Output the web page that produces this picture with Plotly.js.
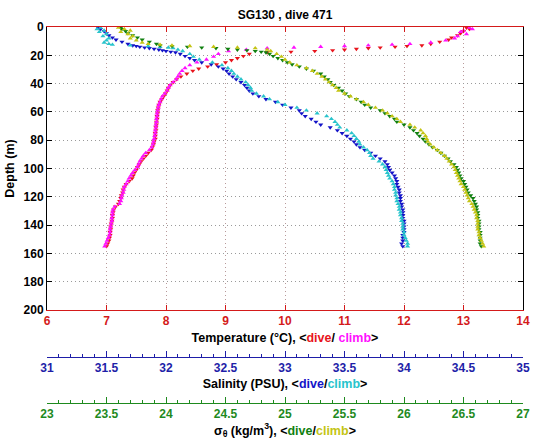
<!DOCTYPE html>
<html>
<head>
<meta charset="utf-8">
<script src="https://cdn.plot.ly/plotly-3.0.1.min.js"></script>
<style>html,body{margin:0;padding:0;background:#fff;}#plot{width:535px;height:442px;}</style>
</head>
<body>
<div id="plot"></div>
<script>
// ---- Dive profile (depth in m) ----
const depthDive = [0.5,1.5,3,4.5,6,7.5,9,10.5,12,
  13,13.5,14,14.5,15,15.5,16,16.5,17,17.5,18,19,20.5,22,23.5,25,26.5,28,29.5,31,
  33,35,37,39,41,43,45,47,49,51,53,55,57,59,61,63,65,67,69,71,73,75,77,79,81,83,85,87,89,91,93,95,97,99,
  101,103,105,107,109,111,113,115,117,119,121,123,125,127,129,131,133,135,137,139,141,143,145,147,149,151,153,155];
const tempDive = [13.05,13.1,13.0,12.95,12.9,12.8,12.75,12.6,12.45,
  12.3,12.05,11.85,11.6,11.4,11.2,11.0,10.8,10.5,10.1,9.7,9.4,9.3,9.2,9.1,9.0,8.85,8.7,8.55,8.45,
  8.35,8.25,8.18,8.12,8.07,8.04,8.02,7.99,7.96,7.93,7.9,7.88,7.87,7.86,7.86,7.85,7.85,7.84,7.84,7.83,7.83,7.82,7.82,7.82,7.8,7.79,7.77,7.75,7.7,7.66,7.62,7.58,7.55,7.52,
  7.5,7.47,7.45,7.43,7.38,7.33,7.3,7.28,7.27,7.25,7.24,7.22,7.2,7.15,7.12,7.11,7.1,7.1,7.09,7.08,7.07,7.07,7.06,7.06,7.05,7.04,7.02,7.0];
const salDive = [31.43,31.45,31.48,31.5,31.52,31.55,31.58,31.63,31.68,
  31.72,31.75,31.78,31.82,31.86,31.9,31.94,31.97,32.0,32.04,32.08,32.12,32.16,32.2,32.24,32.3,32.38,32.44,32.48,32.51,
  32.53,32.56,32.59,32.63,32.66,32.68,32.7,32.73,32.78,32.84,32.92,32.98,33.05,33.12,33.14,33.17,33.22,33.26,33.3,33.38,33.44,33.48,33.52,33.55,33.58,33.6,33.63,33.67,33.72,33.76,33.8,33.84,33.86,33.87,
  33.88,33.9,33.92,33.93,33.94,33.94,33.95,33.96,33.96,33.97,33.97,33.97,33.98,33.98,33.99,33.99,33.99,33.99,34.0,34.0,34.0,34.0,34.0,33.99,33.99,33.99,33.98,33.99];
const sigmaDive = [23.62,23.63,23.66,23.68,23.72,23.76,23.8,23.86,23.92,
  23.95,24.05,24.18,24.3,24.42,24.52,24.6,24.68,24.75,24.8,24.84,24.87,24.9,24.94,24.98,25.02,25.06,25.12,25.18,25.24,
  25.3,25.33,25.36,25.38,25.41,25.45,25.48,25.51,25.54,25.6,25.64,25.67,25.72,25.8,25.84,25.88,25.92,25.94,26.0,26.05,26.08,26.11,26.13,26.16,26.18,26.21,26.24,26.28,26.31,26.34,26.37,26.39,26.42,26.44,
  26.45,26.46,26.47,26.48,26.5,26.51,26.52,26.53,26.54,26.56,26.58,26.59,26.6,26.61,26.61,26.62,26.62,26.62,26.63,26.63,26.63,26.63,26.64,26.64,26.64,26.64,26.64,26.65];

// ---- Climb profile ----
const depthClimb = [0.5,1.5,2.5,3.5,5,6.5,8,9.5,11,12,12.5,13,13.5,14,14.5,15,16,17,19,21,23,25,27,29,31,
  33,35,37,39,41,43,45,47,49,51,53,55,57,59,61,63,65,67,69,71,73,75,77,79,81,83,85,87,89,91,93,95,97,99,
  101,103,105,107,109,111,113,115,117,119,121,123,125,127,129,131,133,135,137,139,141,143,145,147,149,151,153,155];
const tempClimb = [13.1,13.15,13.0,12.95,13.05,12.9,12.85,12.7,12.45,12.1,11.8,11.4,11.0,10.6,10.15,9.7,9.35,9.05,8.88,8.8,8.68,8.52,8.4,8.32,8.27,
  8.23,8.2,8.17,8.12,8.07,8.04,8.02,7.98,7.94,7.92,7.9,7.88,7.87,7.86,7.85,7.85,7.84,7.84,7.83,7.83,7.82,7.82,7.81,7.8,7.79,7.78,7.76,7.72,7.66,7.62,7.59,7.56,7.54,7.52,
  7.48,7.44,7.41,7.38,7.36,7.33,7.3,7.29,7.28,7.26,7.25,7.24,7.22,7.14,7.11,7.1,7.1,7.09,7.09,7.08,7.07,7.06,7.06,7.05,7.03,7.01,6.99,6.97];
const salClimb = [31.45,31.42,31.48,31.44,31.5,31.47,31.52,31.5,31.48,31.52,31.55,31.7,31.85,31.95,32.02,32.06,32.1,32.14,32.2,32.23,32.28,32.39,32.47,32.52,32.55,
  32.57,32.6,32.63,32.67,32.69,32.71,32.72,32.76,32.82,32.87,32.94,33.0,33.1,33.18,33.27,33.35,33.39,33.42,33.44,33.46,33.52,33.56,33.58,33.6,33.62,33.63,33.66,33.69,33.71,33.72,33.74,33.79,33.82,33.84,
  33.85,33.86,33.87,33.88,33.9,33.91,33.92,33.92,33.93,33.93,33.94,33.94,33.95,33.96,33.96,33.97,33.97,33.98,33.98,33.99,33.99,33.99,34.0,34.0,34.01,34.02,34.03,34.03];
const sigmaClimb = [23.6,23.65,23.7,23.62,23.68,23.72,23.7,23.75,23.8,23.85,23.95,24.05,24.2,24.4,24.6,24.75,24.85,24.88,24.93,24.97,25.0,25.04,25.1,25.18,25.23,
  25.27,25.31,25.34,25.37,25.4,25.43,25.45,25.5,25.55,25.6,25.66,25.7,25.76,25.82,25.86,25.9,25.94,25.97,26.05,26.09,26.14,26.16,26.18,26.19,26.2,26.22,26.25,26.28,26.31,26.34,26.36,26.38,26.4,26.42,
  26.43,26.44,26.45,26.46,26.47,26.48,26.5,26.51,26.52,26.53,26.54,26.55,26.57,26.58,26.59,26.6,26.61,26.61,26.62,26.62,26.62,26.62,26.63,26.63,26.64,26.65,26.66,26.67];

// ---- Tick labels ----
const depthTicks = [0,20,40,60,80,100,120,140,160,180,200];
const tempTicks = [6,7,8,9,10,11,12,13,14];
const salTicks = [31,31.5,32,32.5,33,33.5,34,34.5,35];
const sigmaTicks = [23,23.5,24,24.5,25,25.5,26,26.5,27];

const C = {red:'#e8141c', magenta:'#ff10ff', blue:'#1414c8', cyan:'#28c4cc', green:'#108010', olive:'#c4c414',
           salAxis:'#1e1ea8', sigAxis:'#1e8a1e', tempAxis:'#d41a1a'};
const FONT = 'Liberation Sans, Arial, Helvetica, sans-serif';

function tr(x, y, xa, color, sym, name){
  return {x:x, y:y, xaxis:xa, yaxis:'y', type:'scatter', mode:'markers', name:name,
    marker:{symbol:sym, size:4.5, color:color, line:{width:0}}, hoverinfo:'skip'};
}
const data = [
  tr(tempDive, depthDive, 'x', C.red, 'triangle-down', 'T dive'),
  tr(tempClimb, depthClimb, 'x', C.magenta, 'triangle-up', 'T climb'),
  tr(salDive, depthDive, 'x2', C.blue, 'triangle-down', 'S dive'),
  tr(salClimb, depthClimb, 'x2', C.cyan, 'triangle-up', 'S climb'),
  tr(sigmaDive, depthDive, 'x3', C.green, 'triangle-down', 'sigma dive'),
  tr(sigmaClimb, depthClimb, 'x3', C.olive, 'triangle-up', 'sigma climb')
];

const tickFont = (c)=>({family:FONT, size:12, color:c, weight:'bold'});
const titleFont = {family:FONT, size:12.5, color:'#000', weight:'bold'};

const layout = {
  width:535, height:442,
  margin:{l:47, r:12, t:27, b:10},
  paper_bgcolor:'#fff', plot_bgcolor:'#fff',
  showlegend:false,
  title:{text:'SG130 , dive 471', font:{family:FONT, size:12, color:'#000', weight:'bold'},
         xref:'paper', x:0.5, xanchor:'center', yref:'container', y:0.966, yanchor:'middle'},
  yaxis:{domain:[0.3012,1], range:[200,0], tickvals:depthTicks, ticks:'inside', ticklen:5,
         tickcolor:'#000', showline:true, linecolor:'#000', linewidth:1, mirror:'ticks',
         showgrid:true, gridcolor:'#9a9a9a', griddash:'1px,3px', gridwidth:1, zeroline:false,
         tickfont:tickFont('#000'),
         title:{text:'Depth (m)', font:titleFont, standoff:6}},
  xaxis:{domain:[0,1], range:[6,14], tickvals:tempTicks, anchor:'y', side:'bottom',
         ticks:'inside', ticklen:5, tickcolor:C.tempAxis, showline:true, linecolor:C.tempAxis, linewidth:1,
         mirror:'ticks', showgrid:true, gridcolor:'#b89a9a', griddash:'1px,3px', gridwidth:1, zeroline:false,
         tickfont:tickFont(C.tempAxis),
         title:{text:'Temperature (°C), &lt;<span style="color:'+C.red+'">dive</span>/ <span style="color:'+C.magenta+'">climb</span>&gt;',
                font:titleFont, standoff:5}},
  xaxis2:{overlaying:'x', anchor:'free', position:0.1864, side:'bottom', range:[31,35], tickvals:salTicks,
         ticks:'inside', ticklen:6, tickcolor:C.salAxis, showline:true, linecolor:C.salAxis, linewidth:1,
         minor:{dtick:0.1, tick0:31, ticks:'inside', ticklen:3, tickcolor:C.salAxis, showgrid:false},
         showgrid:false, zeroline:false, tickfont:tickFont(C.salAxis),
         title:{text:'Salinity (PSU), &lt;<span style="color:'+C.blue+'">dive</span>/<span style="color:'+C.cyan+'">climb</span>&gt;',
                font:titleFont, standoff:5}},
  xaxis3:{overlaying:'x', anchor:'free', position:0.0716, side:'bottom', range:[23,27], tickvals:sigmaTicks,
         ticks:'inside', ticklen:6, tickcolor:C.sigAxis, showline:true, linecolor:C.sigAxis, linewidth:1,
         minor:{dtick:0.1, tick0:23, ticks:'inside', ticklen:3, tickcolor:C.sigAxis, showgrid:false},
         showgrid:false, zeroline:false, tickfont:tickFont(C.sigAxis),
         title:{text:'σ<sub>θ</sub> (kg/m<sup>3</sup>), &lt;<span style="color:'+C.green+'">dive</span>/<span style="color:'+C.olive+'">climb</span>&gt;',
                font:titleFont, standoff:2}}
};

Plotly.newPlot('plot', data, layout, {displayModeBar:false, staticPlot:true});
</script>
</body>
</html>
